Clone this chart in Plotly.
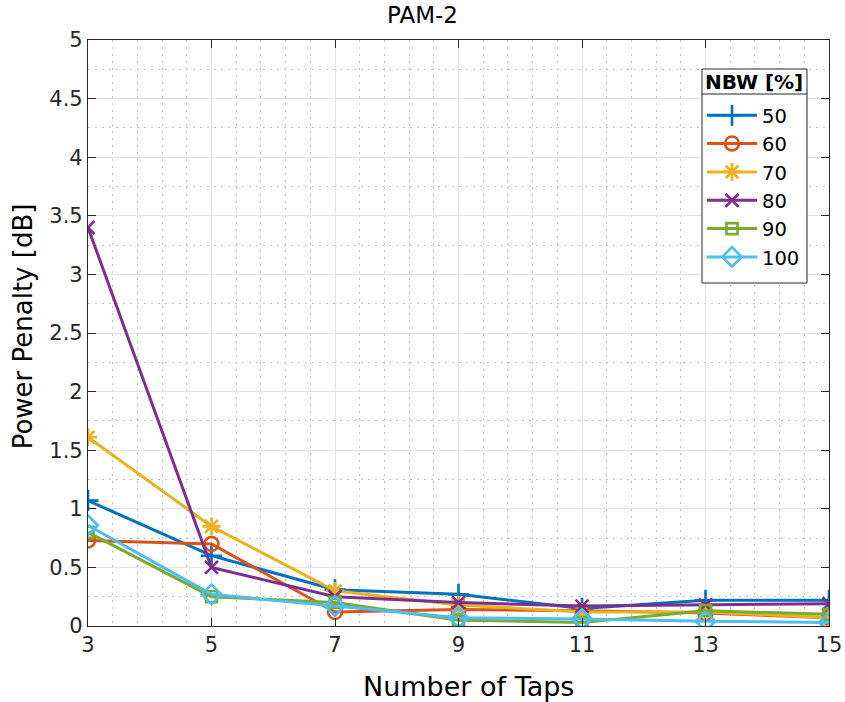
import plotly.graph_objects as go

# Equalizer taps vs. power penalty for several noise bandwidths
taps = [3, 5, 7, 9, 11, 13, 15]
nbw_labels = ["50", "60", "70", "80", "90", "100"]
penalty_50 = [1.07, 0.60, 0.31, 0.27, 0.15, 0.22, 0.22]
penalty_60 = [0.73, 0.70, 0.12, 0.14, 0.13, 0.11, 0.07]
penalty_70 = [1.61, 0.85, 0.30, 0.18, 0.12, 0.12, 0.07]
penalty_80 = [3.40, 0.50, 0.25, 0.20, 0.17, 0.18, 0.19]
penalty_90 = [0.80, 0.25, 0.20, 0.05, 0.03, 0.13, 0.10]
penalty_100 = [0.86, 0.27, 0.17, 0.07, 0.06, 0.04, 0.03]

series = [penalty_50, penalty_60, penalty_70, penalty_80, penalty_90, penalty_100]
colors = ["#0072BD", "#D95319", "#EDB120", "#7E2F8E", "#77AC30", "#4DBEEE"]
symbols = ["cross-thin-open", "circle-open", "asterisk-open", "x-thin-open",
           "square-open", "diamond-open"]
sizes = [15, 14, 15, 13, 11, 15]

FONT = "DejaVu Sans"
AX = "#262626"

fig = go.Figure()
for name, vals, col, sym, sz in zip(nbw_labels, series, colors, symbols, sizes):
    fig.add_trace(go.Scatter(
        x=taps, y=vals, name=name, mode="lines+markers",
        line=dict(color=col, width=3),
        marker=dict(symbol=sym, size=sz, color=col, line=dict(color=col, width=2.6)),
    ))

axis_common = dict(
    showline=True, linecolor=AX, linewidth=1.2, mirror="ticks",
    ticks="inside", ticklen=8, tickcolor=AX, tickwidth=1,
    showgrid=True, gridcolor="#e4e4e4", gridwidth=1.3,
    zeroline=False, automargin=False,
    tickfont=dict(family=FONT, size=21, color=AX),
)
minor_grid = dict(showgrid=True, gridcolor="#c4c4c4", griddash="2px,5px",
                  gridwidth=1, ticks="")

fig.update_xaxes(
    range=[3, 15], tickvals=taps,
    minor=dict(dtick=0.4, tick0=3, **minor_grid),
    **axis_common,
)
fig.update_yaxes(
    range=[0, 5], dtick=0.5,
    minor=dict(dtick=0.25, **minor_grid),
    **axis_common,
)

# Axis labels
fig.add_annotation(text="Number of Taps", xref="paper", yref="paper",
                   x=0.513, y=-0.1024, xanchor="center", yanchor="middle",
                   showarrow=False, font=dict(family=FONT, size=27, color="#000000"))
fig.add_annotation(text="Power Penalty [dB]", xref="paper", yref="paper",
                   x=-0.088, y=0.511, xanchor="center", yanchor="middle",
                   textangle=-90, showarrow=False,
                   font=dict(family=FONT, size=26, color="#000000"))

# Legend frame (white box, border, and a rule under the heading)
LX0, LX1, LY0, LY1, LSEP = 0.8286, 0.9703, 0.5853, 0.9505, 0.9078
fig.add_shape(type="rect", xref="paper", yref="paper", layer="above",
              x0=LX0, x1=LX1, y0=LY0, y1=LY1,
              fillcolor="white", line=dict(color=AX, width=1))
fig.add_shape(type="line", xref="paper", yref="paper", layer="above",
              x0=LX0, x1=LX1, y0=LSEP, y1=LSEP,
              line=dict(color=AX, width=1))
fig.add_annotation(text="<b>NBW [%]</b>", xref="paper", yref="paper",
                   x=(LX0 + LX1) / 2, y=(LY1 + LSEP) / 2,
                   xanchor="center", yanchor="middle", showarrow=False,
                   font=dict(family=FONT, size=20, color="#000000"))

fig.update_layout(
    width=845, height=702,
    margin=dict(l=88, r=16, t=40, b=76),
    paper_bgcolor="white", plot_bgcolor="white",
    title=dict(text="PAM-2", x=0.5, xanchor="center", y=0.99, yanchor="top",
               font=dict(family=FONT, size=23, color="#000000")),
    showlegend=True,
    legend=dict(
        x=LX0, xanchor="left", y=0.9044, yanchor="top",
        bgcolor="rgba(0,0,0,0)", borderwidth=0,
        font=dict(family=FONT, size=19.5, color="#000000"),
        itemwidth=50, tracegroupgap=2,
    ),
)

fig.write_html("out.html")
